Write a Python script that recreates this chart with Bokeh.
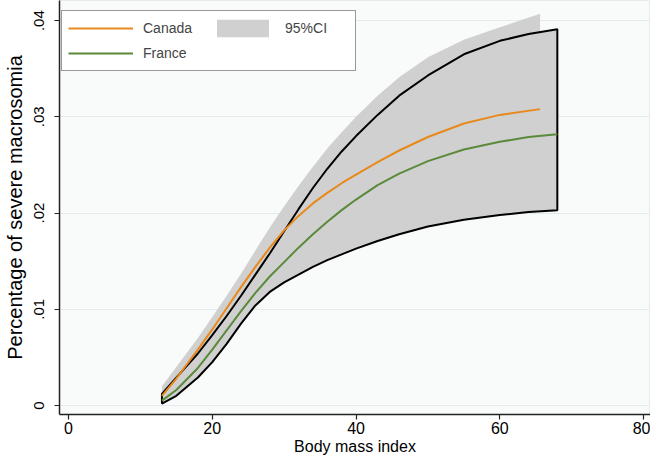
from bokeh.plotting import figure
from bokeh.models import Legend, LegendItem, FixedTicker, Range1d
from bokeh.embed import file_html
from bokeh.resources import INLINE

# ---- data ----
canada_bmi = [13, 15, 18, 20, 22, 24, 26, 28, 30, 32, 34, 36, 38, 40, 43, 46, 50, 55, 60, 65.6]
canada_est = [0.0010, 0.0028, 0.0058, 0.0079, 0.0101, 0.0123, 0.0144, 0.0164, 0.0182, 0.0197,
              0.0210, 0.0221, 0.0231, 0.0240, 0.0253, 0.0265, 0.0279, 0.0293, 0.0302, 0.0308]
canada_lo = [0.0004, 0.0018, 0.0044, 0.0063, 0.0084, 0.0104, 0.0122, 0.0138, 0.0152, 0.0163,
             0.0172, 0.0180, 0.0187, 0.0193, 0.0201, 0.0208, 0.0215, 0.0222, 0.0226, 0.0229]
canada_hi = [0.0020, 0.0040, 0.0070, 0.0092, 0.0114, 0.0137, 0.0161, 0.0185, 0.0207, 0.0228,
             0.0248, 0.0267, 0.0284, 0.0300, 0.0322, 0.0341, 0.0362, 0.0380, 0.0393, 0.0407]

france_bmi = [13, 15, 18, 20, 22, 24, 26, 28, 30, 32, 34, 36, 38, 40, 43, 46, 50, 55, 60, 64, 68]
france_est = [0.0005, 0.0016, 0.0039, 0.0058, 0.0078, 0.0098, 0.0117, 0.0134, 0.0149, 0.0164,
              0.0178, 0.0191, 0.0203, 0.0214, 0.0229, 0.0241, 0.0254, 0.0266, 0.0274, 0.0279, 0.0282]
france_lo = [0.0002, 0.0010, 0.0029, 0.0045, 0.0064, 0.0085, 0.0104, 0.0118, 0.0128, 0.0136,
             0.0144, 0.0151, 0.0157, 0.0163, 0.0171, 0.0178, 0.0186, 0.0193, 0.0198, 0.0201, 0.0203]
france_hi = [0.0012, 0.0029, 0.0054, 0.0073, 0.0093, 0.0114, 0.0136, 0.0158, 0.0181, 0.0204,
             0.0226, 0.0246, 0.0264, 0.0280, 0.0302, 0.0322, 0.0343, 0.0365, 0.0379, 0.0386, 0.0391]

x_ticks = [0, 20, 40, 60, 80]
x_tick_labels = ["0", "20", "40", "60", "80"]
y_ticks = [0, 0.01, 0.02, 0.03, 0.04]
y_tick_labels = ["0", ".01", ".02", ".03", ".04"]

FONT = "Liberation Sans"
BAND = "#d0d0d0"
ORANGE = "#e8891c"
GREEN = "#5a8a3a"

p = figure(width=650, height=457, output_backend="svg", toolbar_location=None,
           x_range=Range1d(-1.25, 80.96), y_range=Range1d(-0.00094, 0.04209),
           min_border_left=0, min_border_right=0, min_border_top=0, min_border_bottom=0)

p.background_fill_color = "#f9fafa"
p.border_fill_color = "white"
p.outline_line_color = "#e4ecec"

# CI bands
r_can_band = p.varea(x=canada_bmi, y1=canada_lo, y2=canada_hi, fill_color=BAND)
fr_xs = france_bmi + france_bmi[::-1]
fr_ys = france_hi + france_lo[::-1]
p.patch(fr_xs, fr_ys, fill_color=BAND, line_color="black", line_width=2)

# estimates
r_can = p.line(canada_bmi, canada_est, line_color=ORANGE, line_width=2)
r_fra = p.line(france_bmi, france_est, line_color=GREEN, line_width=2)

# axes
p.xaxis.ticker = FixedTicker(ticks=x_ticks)
p.xaxis.major_label_overrides = {t: l for t, l in zip(x_ticks, x_tick_labels)}
p.yaxis.ticker = FixedTicker(ticks=y_ticks)
p.yaxis.major_label_overrides = {t: l for t, l in zip(y_ticks, y_tick_labels)}
p.yaxis.major_label_orientation = "vertical"

for ax in (p.xaxis[0], p.yaxis[0]):
    ax.axis_line_color = "#222222"
    ax.axis_line_width = 1.5
    ax.major_tick_line_color = "#222222"
    ax.major_tick_line_width = 1.2
    ax.major_tick_out = 5
    ax.major_tick_in = 0
    ax.minor_tick_out = 0
    ax.minor_tick_in = 0
    ax.major_label_text_font = FONT
    ax.axis_label_text_font = FONT
    ax.axis_label_text_font_style = "normal"
    ax.major_label_text_color = "black"
    ax.axis_label_text_color = "black"

p.xaxis.axis_label = "Body mass index"
p.yaxis.axis_label = "Percentage of severe macrosomia"
p.xaxis.major_label_text_font_size = "16px"
p.yaxis.major_label_text_font_size = "15px"
p.xaxis.axis_label_text_font_size = "16px"
p.yaxis.axis_label_text_font_size = "20px"
p.xaxis.major_label_standoff = 2
p.yaxis.major_label_standoff = 10
p.xaxis.axis_label_standoff = 1
p.yaxis.axis_label_standoff = 6

p.xgrid.grid_line_color = None
p.ygrid.grid_line_color = "#e3eced"
p.ygrid.grid_line_width = 1

legend = Legend(items=[LegendItem(label="Canada", renderers=[r_can]),
                       LegendItem(label="France", renderers=[r_fra]),
                       LegendItem(label="95%CI", renderers=[r_can_band])],
                nrows=2, location=(2, 343), margin=0, padding=6,
                spacing=3, glyph_width=65, glyph_height=22, label_standoff=10,
                label_width=64,
                label_text_font=FONT, label_text_font_size="14px",
                border_line_color="#333333", border_line_width=1.5,
                background_fill_color="white", background_fill_alpha=1.0)
p.add_layout(legend)

open("out.html", "w").write(file_html(p, INLINE))
